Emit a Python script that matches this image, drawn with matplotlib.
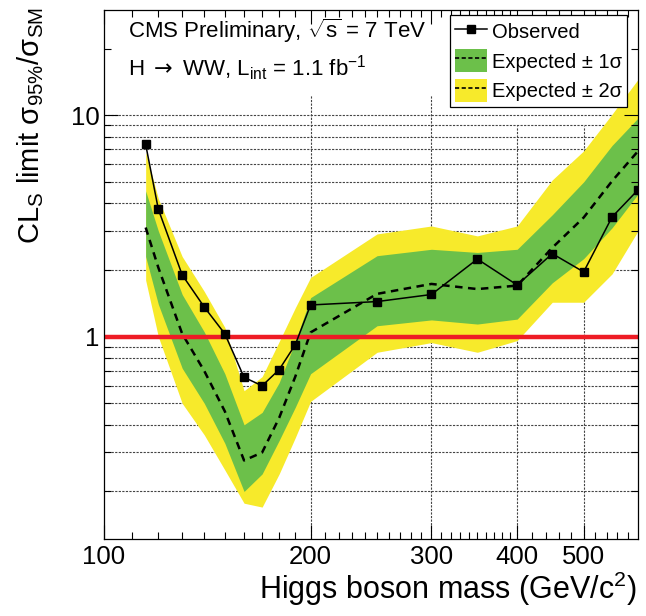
import numpy as np
import matplotlib
matplotlib.use("Agg")
import matplotlib.pyplot as plt
from matplotlib.lines import Line2D
from matplotlib.patches import Patch

plt.rcParams['font.family'] = ['Liberation Sans', 'DejaVu Sans']
plt.rcParams['mathtext.fontset'] = 'custom'
plt.rcParams['mathtext.rm'] = 'Liberation Sans'
plt.rcParams['mathtext.it'] = 'Liberation Sans:italic'
plt.rcParams['mathtext.sf'] = 'DejaVu Sans'

# Higgs mass points (GeV/c^2)
mass = [115, 120, 130, 140, 150, 160, 170, 180, 190, 200,
        250, 300, 350, 400, 450, 500, 550, 600]
observed = [7.38, 3.76, 1.90, 1.36, 1.03, 0.655, 0.60, 0.71, 0.92, 1.39,
            1.44, 1.55, 2.24, 1.71, 2.37, 1.96, 3.47, 4.60]
expected = [3.11, 2.05, 1.03, 0.70, 0.46, 0.276, 0.30, 0.43, 0.66, 1.045,
            1.56, 1.73, 1.64, 1.70, 2.52, 3.45, 5.04, 6.88]
# +-1 sigma band
green_lo = [2.30, 1.40, 0.72, 0.50, 0.33, 0.20, 0.24, 0.34, 0.48, 0.68,
            1.12, 1.19, 1.14, 1.20, 1.75, 2.25, 3.10, 4.40]
green_hi = [4.55, 3.00, 1.55, 1.05, 0.68, 0.40, 0.455, 0.62, 0.95, 1.50,
            2.32, 2.48, 2.40, 2.48, 3.55, 5.00, 7.30, 9.70]
# +-2 sigma band
yellow_lo = [1.80, 1.00, 0.50, 0.36, 0.25, 0.177, 0.17, 0.24, 0.35, 0.51,
             0.85, 0.94, 0.85, 0.96, 1.43, 1.43, 1.92, 3.00]
yellow_hi = [6.80, 4.20, 2.30, 1.60, 1.10, 0.57, 0.66, 0.95, 1.35, 1.85,
             2.91, 3.16, 2.85, 3.16, 5.10, 6.90, 10.10, 14.50]

x_major = [100, 200, 300, 400, 500]
x_minor = [110, 120, 130, 140, 150, 160, 170, 180, 190,
           210, 220, 230, 240, 250, 260, 270, 280, 290,
           310, 320, 330, 340, 350, 360, 370, 380, 390,
           420, 440, 460, 480, 520, 540, 560, 580]
y_major = [1, 10]
y_minor = [0.2, 0.3, 0.4, 0.5, 0.6, 0.7, 0.8, 0.9,
           2, 3, 4, 5, 6, 7, 8, 9, 20]
y_grid = [0.2, 0.3, 0.4, 0.5, 0.6, 0.7, 0.8, 0.9, 1,
          2, 3, 4, 5, 6, 7, 8, 9, 10]

GREEN = '#6cc04a'
YELLOW = '#f7ea2b'

fig = plt.figure(figsize=(6.46, 6.16), dpi=100)
ax = fig.add_axes([104 / 646, 1 - 539 / 616, 534 / 646, 529.5 / 616])
ax.set_xscale('log')
ax.set_yscale('log')
ax.set_xlim(100, 600)
ax.set_ylim(0.122, 30)

# grid (ROOT style, partly hidden by the text boxes)
grid_kw = dict(colors='#444444', linestyles=(0, (2, 1.2)), linewidths=0.8, zorder=0.5)
ax.hlines(y_grid, 100, 600, **grid_kw)
ax.vlines([200, 300], 0.122, 12.3, **grid_kw)
ax.vlines([400, 500], 0.122, 8.9, **grid_kw)

ax.fill_between(mass, yellow_lo, yellow_hi, color=YELLOW, lw=0, zorder=1)
ax.fill_between(mass, green_lo, green_hi, color=GREEN, lw=0, zorder=1.1)
ax.plot(mass, expected, color='black', lw=1.8, ls=(0, (3, 2.2)), zorder=2)
ax.axhline(1, color='#ee1c25', lw=3.2, zorder=2.5)
ax.plot(mass, observed, color='black', lw=1.1, marker='s', ms=6, zorder=3)

ax.set_xticks(x_major)
ax.set_xticklabels([str(v) for v in x_major])
ax.set_xticks(x_minor, minor=True)
ax.set_xticklabels([], minor=True)
ax.set_yticks(y_major)
ax.set_yticklabels([str(v) for v in y_major])
ax.set_yticks(y_minor, minor=True)
ax.set_yticklabels([], minor=True)
ax.tick_params(which='both', direction='in', top=True, right=True,
               width=0.8, labelsize=18.5)
ax.tick_params(which='major', length=10)
ax.tick_params(which='minor', length=5)
ax.tick_params(axis='x', pad=4)
ax.tick_params(axis='y', pad=3)
for s in ax.spines.values():
    s.set_linewidth(0.9)

fig.text(128 / 646, 1 - 38 / 616, r'CMS Preliminary, $\sqrt{\mathrm{s}}$ = 7 TeV',
         fontsize=16, ha='left', va='baseline')
fig.text(128 / 646, 1 - 76 / 616,
         r'H $\mathsf{\rightarrow}$ WW, L$_\mathrm{int}$ = 1.1 fb$^\mathrm{-1}$',
         fontsize=16, ha='left', va='baseline')

fig.text(637 / 646, 1 - 599 / 616, 'Higgs boson mass (GeV/c$^\mathrm{2}$)',
         fontsize=22, ha='right', va='baseline')
fig.text(31 / 646, 1 - 7 / 616, r'CL$_\mathrm{S}$ limit σ$_\mathrm{95\%}$/σ$_\mathrm{SM}$',
         fontsize=21, rotation=90, ha='center', va='top')

handles = [
    Line2D([], [], color='black', lw=1.1, marker='s', ms=6),
    (Patch(fc=GREEN, lw=0), Line2D([], [], color='black', lw=1.2, ls=(0, (2.5, 1.5)))),
    (Patch(fc=YELLOW, lw=0), Line2D([], [], color='black', lw=1.2, ls=(0, (2.5, 1.5)))),
]
labels = ['Observed', 'Expected ± 1σ', 'Expected ± 2σ']
leg = ax.legend(handles, labels, loc='upper left',
                bbox_to_anchor=(0.648, 0.990), fontsize=14.5,
                frameon=True, fancybox=False, framealpha=1, edgecolor='black',
                borderpad=0.25, handlelength=1.6, handleheight=1.35,
                handletextpad=0.25, labelspacing=0.35, borderaxespad=0)
leg.get_frame().set_linewidth(0.9)
leg.set_zorder(5)

fig.savefig('out.png', dpi=100)
